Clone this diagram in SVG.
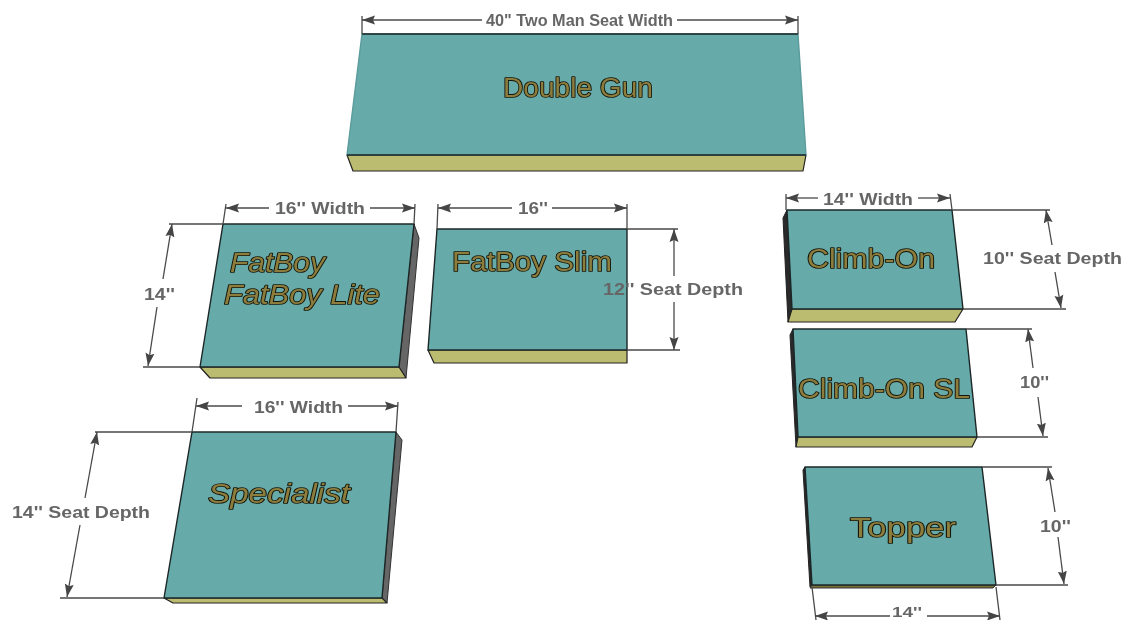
<svg xmlns="http://www.w3.org/2000/svg" width="1125" height="620" viewBox="0 0 1125 620">
<defs>
<marker id="arrow" markerUnits="userSpaceOnUse" markerWidth="15" markerHeight="11" refX="13" refY="5.500" orient="auto"><path d="M0 1L13 5.500L0 10L2 5.500Z" fill="#444"/></marker>
<filter id="soft" x="0" y="0" width="100%" height="100%"><feGaussianBlur stdDeviation="0.7"/></filter>
</defs>
<style>
.top{fill:#66aaaa;stroke:#1c2626;stroke-width:1.400;stroke-linejoin:round}
.open{stroke:#5c9c9c}
.rim{stroke:#1c2626;stroke-width:1.400;fill:none}
.front{fill:#bcbc70;stroke:#222;stroke-width:1.200;stroke-linejoin:round}
.side{fill:#666;stroke:#333;stroke-width:1;stroke-linejoin:round}
.sidedark{fill:#2a2a2a;stroke:#222;stroke-width:1;stroke-linejoin:round}
.edge{fill:#77703a;stroke:#333;stroke-width:1}
.name{font-family:"Liberation Sans",Arial,sans-serif;font-size:27px;fill:#8c7d3e;stroke:#141409;stroke-width:1.700px;paint-order:stroke;stroke-linejoin:round}
.it{font-style:italic}
.dim{font-family:"Liberation Sans",Arial,sans-serif;font-weight:bold;font-size:17px;fill:#666}
.small{font-size:14px}
.ext{stroke:#4a4a4a;stroke-width:1.300;fill:none}
.arr{stroke:#4a4a4a;stroke-width:1.300;fill:none;marker-end:url(#arrow)}
</style>
<rect width="1125" height="620" fill="#fff"/>
<g filter="url(#soft)">
<g id="double-gun">
<polygon class="front" points="347,155 806,155 803,171 353,171"/>
<polygon class="top open" points="362,34 798,34 806,155 347,155"/>
<path class="rim" d="M362 34H798M347 155H806"/>
<text class="name" x="503" y="97" textLength="150" lengthAdjust="spacingAndGlyphs">Double Gun</text>
</g>
<g id="fatboy">
<polygon class="side" points="414,224 419,238 406,378 399,367"/>
<polygon class="front" points="200,367 399,367 406,378 210,378"/>
<polygon class="top" points="223,224 414,224 399,367 200,367"/>
<text class="name it" x="230" y="272" textLength="95" lengthAdjust="spacingAndGlyphs">FatBoy</text>
<text class="name it" x="224" y="304" textLength="156" lengthAdjust="spacingAndGlyphs">FatBoy Lite</text>
</g>
<g id="fatboy-slim">
<polygon class="front" points="428,350 627,350 627,363 434,363"/>
<polygon class="top" points="437,229 627,229 627,350 428,350"/>
<text class="name" x="452" y="271" textLength="160" lengthAdjust="spacingAndGlyphs">FatBoy Slim</text>
</g>
<g id="climb-on">
<polygon class="sidedark" points="787,210 783,218 788,322 792,309"/>
<polygon class="front" points="792,309 963,309 955,322 788,322"/>
<polygon class="top" points="787,210 952,210 963,309 792,309"/>
<text class="name" x="807" y="268" textLength="128" lengthAdjust="spacingAndGlyphs">Climb-On</text>
</g>
<g id="climb-on-sl">
<polygon class="sidedark" points="793,329 790,335 796,447 798,437"/>
<polygon class="front" points="798,437 977,437 972,447 796,447"/>
<polygon class="top" points="793,329 966,329 977,437 798,437"/>
<text class="name" x="798" y="398" textLength="172" lengthAdjust="spacingAndGlyphs">Climb-On SL</text>
</g>
<g id="topper">
<polygon class="sidedark" points="805,467 803,470 810,587 812,585"/>
<polygon class="edge" points="812,585 996,585 993,588 810,588"/>
<polygon class="top" points="805,467 982,467 996,585 812,585"/>
<text class="name" x="850" y="537" textLength="106" lengthAdjust="spacingAndGlyphs">Topper</text>
</g>
<g id="specialist">
<polygon class="side" points="396,432 402,440 387,603 382,598"/>
<polygon class="front" points="164,598 382,598 387,603 173,603"/>
<polygon class="top" points="192,432 396,432 382,598 164,598"/>
<text class="name it" x="208" y="503" textLength="142" lengthAdjust="spacingAndGlyphs">Specialist</text>
</g>
<g id="connectors">
<path class="ext" d="M362 16V34M798 16V34"/>
<line class="arr" x1="482" y1="20" x2="362" y2="20"/><line class="arr" x1="677" y1="20" x2="798" y2="20"/>
<path class="ext" d="M226 204L223 224M415 204L414 224M169 224H223M143 367H200"/>
<line class="arr" x1="269" y1="208" x2="226" y2="208"/><line class="arr" x1="370" y1="208" x2="415" y2="208"/>
<line class="arr" x1="163" y1="279" x2="172" y2="224"/><line class="arr" x1="157" y1="307" x2="148" y2="366"/>
<path class="ext" d="M438 204L437 229M627 204V229M627 229H678M627 350H680"/>
<line class="arr" x1="512" y1="208" x2="438" y2="208"/><line class="arr" x1="552" y1="208" x2="627" y2="208"/>
<line class="arr" x1="674" y1="276" x2="674" y2="229"/><line class="arr" x1="674" y1="302" x2="674" y2="350"/>
<path class="ext" d="M786 194V210M950 194L952 210M952 210H1050M963 309H1066"/>
<line class="arr" x1="818" y1="198" x2="786" y2="198"/><line class="arr" x1="918" y1="198" x2="950" y2="198"/>
<line class="arr" x1="1052" y1="245" x2="1046" y2="210"/><line class="arr" x1="1055" y1="272" x2="1061" y2="308"/>
<path class="ext" d="M966 329H1032M977 437H1048"/>
<line class="arr" x1="1033" y1="368" x2="1028" y2="329"/><line class="arr" x1="1038" y1="397" x2="1043" y2="436"/>
<path class="ext" d="M982 467H1052M996 585H1068M812 587L816 620M996 587L1000 620"/>
<line class="arr" x1="1055" y1="512" x2="1048" y2="468"/><line class="arr" x1="1058" y1="537" x2="1064" y2="584"/>
<line class="arr" x1="890" y1="616" x2="815" y2="616"/><line class="arr" x1="927" y1="616" x2="1000" y2="616"/>
<path class="ext" d="M197 398L192 432M398 402L396 432M95 432H192M60 598H164"/>
<line class="arr" x1="242" y1="406" x2="196" y2="406"/><line class="arr" x1="348" y1="406" x2="398" y2="406"/>
<line class="arr" x1="85" y1="498" x2="97" y2="432"/><line class="arr" x1="80" y1="525" x2="67" y2="597"/>
<text class="dim" x="486" y="26" textLength="187" lengthAdjust="spacingAndGlyphs">40" Two Man Seat Width</text>
<text class="dim" x="275" y="214" textLength="90" lengthAdjust="spacingAndGlyphs">16'' Width</text>
<text class="dim" x="144" y="300" textLength="31" lengthAdjust="spacingAndGlyphs">14''</text>
<text class="dim" x="518" y="214" textLength="30" lengthAdjust="spacingAndGlyphs">16''</text>
<text class="dim" x="603" y="295" textLength="140" lengthAdjust="spacingAndGlyphs">12'' Seat Depth</text>
<text class="dim" x="823" y="205" textLength="90" lengthAdjust="spacingAndGlyphs">14'' Width</text>
<text class="dim" x="983" y="264" textLength="139" lengthAdjust="spacingAndGlyphs">10'' Seat Depth</text>
<text class="dim" x="1020" y="388" textLength="29" lengthAdjust="spacingAndGlyphs">10''</text>
<text class="dim" x="1040" y="532" textLength="31" lengthAdjust="spacingAndGlyphs">10''</text>
<text class="dim small" x="892" y="616.500" textLength="30" lengthAdjust="spacingAndGlyphs">14''</text>
<text class="dim" x="254" y="413" textLength="89" lengthAdjust="spacingAndGlyphs">16'' Width</text>
<text class="dim" x="12" y="518" textLength="138" lengthAdjust="spacingAndGlyphs">14'' Seat Depth</text>
</g>
</g>
</svg>
